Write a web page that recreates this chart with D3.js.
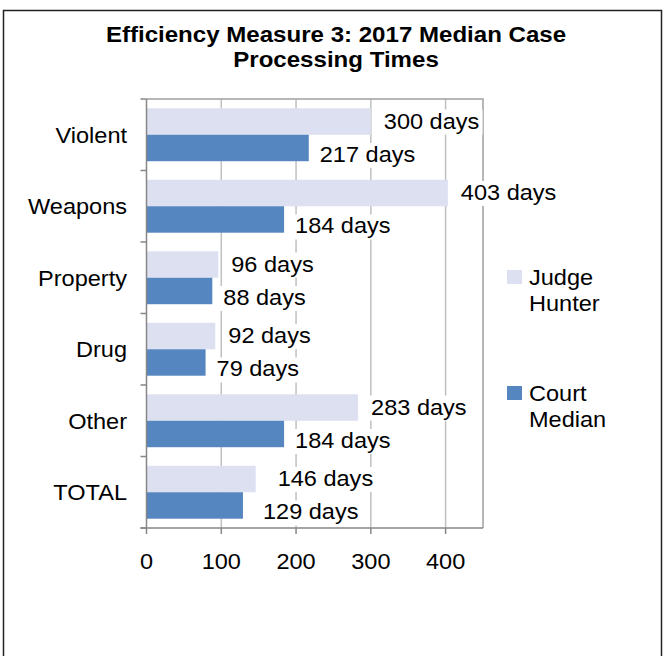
<!DOCTYPE html>
<meta charset="utf-8">
<style>
    body { margin: 0; background: #fff; }
    svg { display: block; font-family: "Liberation Sans", Arial, sans-serif; }
</style>
<body>
<svg width="665" height="656"></svg>
<script src="https://d3js.org/d3.v7.min.js"></script>
<script>
    var categories = ["Violent", "Weapons", "Property", "Drug", "Other", "TOTAL"];
    var judgeHunter = [300, 403, 96, 92, 283, 146];
    var courtMedian = [217, 184, 88, 79, 184, 129];
    var seriesNames = ["Judge Hunter", "Court Median"];
    var xTicks = [0, 100, 200, 300, 400];

    var svg = d3.select("svg");
    var plot = { left: 146.5, right: 483, top: 99, bottom: 528 };
    var colors = ["#dce0f0", "#5586bf"];
    var stretch = 1.07; // the source text is a little wider than Liberation Sans

    function place(px, py) {
        return "translate(" + px + "," + py + ") scale(" + stretch + ",1)";
    }

    // outer frame (runs off the right/bottom of the picture)
    svg.append("rect")
        .attr("x", 3.5).attr("y", 10.5)
        .attr("width", 658).attr("height", 700)
        .attr("fill", "none").attr("stroke", "#222").attr("stroke-width", 1.5);

    // title
    var title = svg.append("text")
        .attr("transform", place(336, 0))
        .attr("text-anchor", "middle")
        .style("font-weight", "bold").style("font-size", "22.5px");
    title.append("tspan").attr("x", 0).attr("y", 42).text("Efficiency Measure 3: 2017 Median Case");
    title.append("tspan").attr("x", 0).attr("y", 67).text("Processing Times");

    var x = d3.scaleLinear().domain([0, 450]).range([plot.left, plot.right]);
    var y = d3.scaleBand().domain(categories).range([plot.top, plot.bottom])
        .paddingInner(0.26).paddingOuter(0.13);
    var ySub = d3.scaleBand().domain([0, 1]).range([0, y.bandwidth()]);

    // gridlines
    svg.append("g").selectAll("line")
        .data(xTicks.slice(1))
        .enter().append("line")
        .attr("x1", function (d) { return x(d); }).attr("x2", function (d) { return x(d); })
        .attr("y1", plot.top).attr("y2", plot.bottom)
        .attr("stroke", "#c0c0c0").attr("stroke-width", 1.5);

    // plot frame top + right
    svg.append("path")
        .attr("d", "M" + plot.left + "," + plot.top + "H" + plot.right + "V" + plot.bottom)
        .attr("fill", "none").attr("stroke", "#a0a0a0").attr("stroke-width", 1.5);

    var rows = categories.map(function (c, i) {
        return { cat: c, vals: [judgeHunter[i], courtMedian[i]] };
    });

    var groups = svg.append("g").selectAll("g")
        .data(rows)
        .enter().append("g")
        .attr("transform", function (d) { return "translate(0," + y(d.cat) + ")"; });

    groups.selectAll("rect")
        .data(function (d) { return d.vals; })
        .enter().append("rect")
        .attr("x", x(0))
        .attr("y", function (d, i) { return ySub(i); })
        .attr("width", function (d) { return x(d) - x(0); })
        .attr("height", ySub.bandwidth())
        .attr("fill", function (d, i) { return colors[i]; });

    // data labels with white boxes over the gridlines
    groups.each(function (row) {
        var nudge = row.cat === "TOTAL" ? 9 : 0;
        var lbl = d3.select(this).selectAll("g.lbl")
            .data(row.vals)
            .enter().append("g").attr("class", "lbl")
            .attr("transform", function (d, i) {
                var lx = x(d) + (i === 0 ? 13 : 11) + nudge;
                var ly = ySub(i) + ySub.bandwidth() / 2 + (i === 0 ? 7 : 14);
                return place(lx, ly);
            });
        lbl.append("rect")
            .attr("x", -3).attr("y", -19).attr("height", 25)
            .attr("fill", "#fff");
        lbl.append("text")
            .style("font-size", "22px")
            .text(function (d) { return d + " days"; })
            .each(function () {
                var w = this.getComputedTextLength();
                d3.select(this.parentNode).select("rect").attr("width", w + 6);
            });
    });

    // y axis
    var yAxis = svg.append("g").attr("stroke", "#868686").attr("stroke-width", 1.5);
    yAxis.append("line").attr("x1", plot.left).attr("x2", plot.left)
        .attr("y1", plot.top).attr("y2", plot.bottom);
    yAxis.selectAll("line.tk")
        .data(d3.range(categories.length + 1))
        .enter().append("line").attr("class", "tk")
        .attr("x1", plot.left - 6).attr("x2", plot.left)
        .attr("y1", function (i) { return plot.top + i * y.step(); })
        .attr("y2", function (i) { return plot.top + i * y.step(); });

    svg.append("g").selectAll("text")
        .data(categories)
        .enter().append("text")
        .attr("transform", function (d) { return place(127, y(d) + y.bandwidth() / 2 + 8); })
        .attr("text-anchor", "end")
        .style("font-size", "22px")
        .text(function (d) { return d; });

    // x axis
    var xAxis = svg.append("g").attr("stroke", "#868686").attr("stroke-width", 1.5);
    xAxis.append("line").attr("x1", plot.left - 6).attr("x2", plot.right)
        .attr("y1", plot.bottom).attr("y2", plot.bottom);
    xAxis.selectAll("line.tk")
        .data(xTicks)
        .enter().append("line").attr("class", "tk")
        .attr("x1", function (d) { return x(d); }).attr("x2", function (d) { return x(d); })
        .attr("y1", plot.bottom).attr("y2", plot.bottom + 6);

    svg.append("g").selectAll("text")
        .data(xTicks)
        .enter().append("text")
        .attr("transform", function (d) { return place(x(d), 569); })
        .attr("text-anchor", "middle")
        .style("font-size", "22px")
        .text(function (d) { return d; });

    // legend
    var legendY = [270, 386];
    var legend = svg.append("g").selectAll("g")
        .data(seriesNames)
        .enter().append("g")
        .attr("transform", function (d, i) { return "translate(507," + legendY[i] + ")"; });
    legend.append("rect")
        .attr("width", 15).attr("height", 14)
        .attr("fill", function (d, i) { return colors[i]; });
    legend.append("text")
        .attr("transform", place(22, 0))
        .style("font-size", "22px")
        .selectAll("tspan")
        .data(function (d) { return d.split(" "); })
        .enter().append("tspan")
        .attr("x", 0)
        .attr("y", function (d, i) { return 15 + i * 26; })
        .text(function (d) { return d; });
</script>
</body>
